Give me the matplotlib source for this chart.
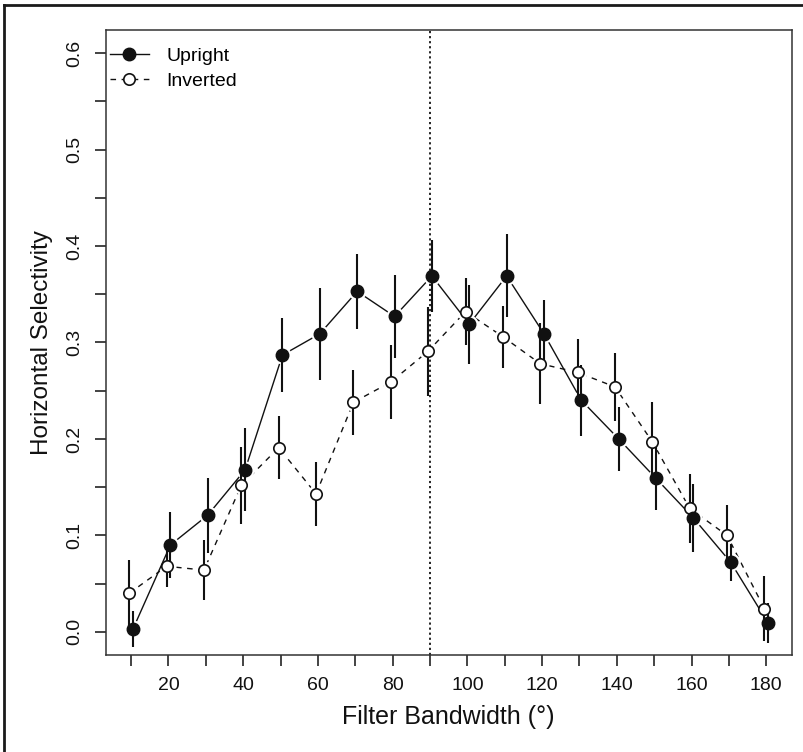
import matplotlib

matplotlib.use("Agg")

import matplotlib.pyplot as plt
from matplotlib.lines import Line2D
from matplotlib.ticker import MultipleLocator

plt.rcParams["font.family"] = ["Liberation Sans", "DejaVu Sans"]

# Data (selectivity +/- error bar half-length).
bandwidth = [10, 20, 30, 40, 50, 60, 70, 80, 90, 100, 110, 120, 130, 140, 150, 160, 170, 180]
upright = [0.003, 0.090, 0.121, 0.168, 0.287, 0.309, 0.353, 0.327, 0.369, 0.319, 0.369, 0.309,
           0.240, 0.200, 0.159, 0.118, 0.072, 0.009]
upright_err = [0.019, 0.034, 0.039, 0.043, 0.038, 0.048, 0.039, 0.043, 0.037, 0.041, 0.043, 0.035,
               0.037, 0.033, 0.033, 0.035, 0.019, 0.021]
inverted = [0.040, 0.068, 0.064, 0.152, 0.191, 0.143, 0.238, 0.259, 0.291, 0.332, 0.306, 0.278,
            0.269, 0.254, 0.197, 0.128, 0.100, 0.024]
inverted_err = [0.034, 0.022, 0.031, 0.040, 0.033, 0.033, 0.034, 0.038, 0.046, 0.035, 0.032, 0.042,
                0.035, 0.035, 0.041, 0.036, 0.032, 0.034]
split_at = 90

INK = "#111111"
DODGE = 0.5

fig = plt.figure(figsize=(8.04, 7.52), dpi=100)
ax = fig.add_axes([0.1315, 0.129, 0.8532, 0.8311])

x_up = [b + DODGE for b in bandwidth]
x_inv = [b - DODGE for b in bandwidth]

# connecting lines, with a white halo round each point (R type="b" gaps)
ax.plot(x_inv, inverted, color=INK, lw=1.0, ls=(0, (4, 4)), zorder=1)
ax.plot(x_inv, inverted, ls="none", marker="o", ms=13, mfc="white", mec="none", zorder=2)
ax.plot(x_up, upright, color=INK, lw=1.0, zorder=2.1)
ax.plot(x_up, upright, ls="none", marker="o", ms=13, mfc="white", mec="none", zorder=2.2)

ax.axvline(split_at, color=INK, lw=1.3, ls=(0, (1.2, 1.6)), zorder=2.5)

ax.errorbar(x_inv, inverted, yerr=inverted_err, fmt="none", ecolor=INK, elinewidth=1.5, capsize=0, zorder=3)
ax.errorbar(x_up, upright, yerr=upright_err, fmt="none", ecolor=INK, elinewidth=1.5, capsize=0, zorder=3)

ax.plot(x_inv, inverted, ls="none", marker="o", ms=8.2, mfc="white", mec=INK, mew=1.2, zorder=4)
ax.plot(x_up, upright, ls="none", marker="o", ms=9, mfc=INK, mec=INK, mew=1.0, zorder=5)

ax.set_xlim(3.2, 186.8)
ax.set_ylim(-0.024, 0.624)
ax.xaxis.set_minor_locator(MultipleLocator(10))
ax.yaxis.set_minor_locator(MultipleLocator(0.05))
ax.set_xticks([20, 40, 60, 80, 100, 120, 140, 160, 180])
ax.set_yticks([0.0, 0.1, 0.2, 0.3, 0.4, 0.5, 0.6])
ax.set_yticklabels(["0.0", "0.1", "0.2", "0.3", "0.4", "0.5", "0.6"], rotation=90, va="center")
ax.tick_params(which="both", direction="out", length=8, width=1.1, colors=INK, labelsize=14, pad=8)
for s in ax.spines.values():
    s.set_linewidth(1.1)
    s.set_color("#333333")

ax.set_xlabel("Filter Bandwidth (°)", fontsize=18, color=INK, labelpad=8)
ax.set_ylabel("Horizontal Selectivity", fontsize=17.5, color=INK, labelpad=10)

handles = [
    Line2D([], [], color=INK, lw=1.0, marker="o", ms=9, mfc=INK, mec=INK),
    Line2D([], [], color=INK, lw=1.0, ls=(0, (4, 4)), marker="o", ms=8.2, mfc="white", mec=INK, mew=1.2),
]
ax.legend(handles, ["Upright", "Inverted"], loc="upper left", bbox_to_anchor=(-0.014, 0.994),
          frameon=False, fontsize=14, handlelength=2.0, handletextpad=0.9, labelspacing=0.36,
          borderaxespad=0.3)

# page frame (only top and left edges are visible in the crop)
fig.add_artist(Line2D([0.005, 0.005], [0.0, 0.9935], transform=fig.transFigure, color="#1a1a1a", lw=2))
fig.add_artist(Line2D([0.005, 1.0], [0.9935, 0.9935], transform=fig.transFigure, color="#1a1a1a", lw=2))

fig.savefig("out.png", dpi=100, facecolor="white")
